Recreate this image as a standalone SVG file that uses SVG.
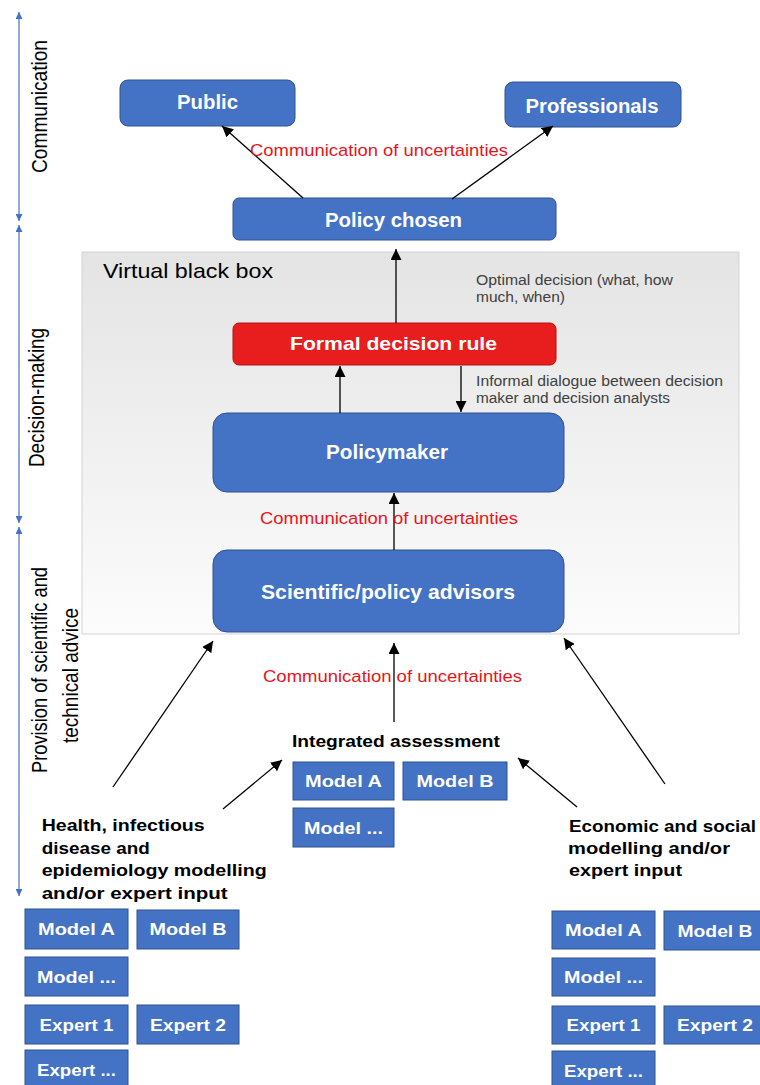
<svg xmlns="http://www.w3.org/2000/svg" width="760" height="1085" viewBox="0 0 760 1085">
<defs>
<linearGradient id="bbGrad" x1="0" y1="0" x2="0" y2="1">
<stop offset="0" stop-color="#e4e4e4"/>
<stop offset="1" stop-color="#fcfcfc"/>
</linearGradient>
<marker id="ah" viewBox="0 0 10 10" refX="10" refY="5" markerWidth="11" markerHeight="11" markerUnits="userSpaceOnUse" orient="auto">
<path d="M0,0 L10,5 L0,10 z" fill="#000"/>
</marker>
<marker id="bh" viewBox="0 0 10 10" refX="10" refY="5" markerWidth="7" markerHeight="7" markerUnits="userSpaceOnUse" orient="auto-start-reverse">
<path d="M0,0 L10,5 L0,10 z" fill="#4472C4"/>
</marker>
<style>
text{font-family:"Liberation Sans",Arial,sans-serif;}
.node{fill:#4472C4;stroke:#2F528F;stroke-width:1;}
.red{fill:#E81D1D;stroke:#B01515;stroke-width:1;}
.nt{fill:#fff;font-weight:bold;text-anchor:middle;}
.big{font-size:19.5px;}
.mt{font-size:17px;}
.lab{fill:#E8141A;font-size:16.8px;}
.gray{fill:#404040;font-size:14px;}
.bl{fill:#000;font-weight:bold;font-size:16.3px;}
.ax{fill:#000;font-size:22px;text-anchor:middle;}
.conn{stroke:#000;stroke-width:1.3;fill:none;marker-end:url(#ah);}
.axis{stroke:#4472C4;stroke-width:1.2;fill:none;marker-start:url(#bh);marker-end:url(#bh);}
</style>
</defs>

<g id="axis">
<line class="axis" x1="19" y1="12" x2="19" y2="221"/>
<line class="axis" x1="19" y1="225" x2="19" y2="523"/>
<line class="axis" x1="19" y1="527" x2="19" y2="896"/>
<text class="ax" transform="translate(46.7,106.5) rotate(-90)" textLength="133" lengthAdjust="spacingAndGlyphs">Communication</text>
<text class="ax" transform="translate(44,397.5) rotate(-90)" textLength="139" lengthAdjust="spacingAndGlyphs">Decision-making</text>
<text class="ax" transform="translate(47,670) rotate(-90)" textLength="206" lengthAdjust="spacingAndGlyphs">Provision of scientific and</text>
<text class="ax" transform="translate(78,675.5) rotate(-90)" textLength="135" lengthAdjust="spacingAndGlyphs">technical advice</text>
</g>

<g id="black-box">
<rect x="82" y="252" width="657" height="382" fill="url(#bbGrad)" stroke="#d4d4d4" stroke-width="1"/>
<text x="103" y="278" font-size="21" fill="#000" textLength="170" lengthAdjust="spacingAndGlyphs">Virtual black box</text>
</g>

<g id="public">
<rect class="node" x="120" y="80" width="175" height="46" rx="8"/>
<text class="nt big" x="207.5" y="109" textLength="61" lengthAdjust="spacingAndGlyphs">Public</text>
</g>
<g id="professionals">
<rect class="node" x="505" y="82" width="176" height="45" rx="8"/>
<text class="nt big" x="592" y="112.5" textLength="133" lengthAdjust="spacingAndGlyphs">Professionals</text>
</g>
<g id="policy-chosen">
<rect class="node" x="233" y="198" width="323" height="42" rx="6"/>
<text class="nt big" x="393.5" y="227" textLength="137" lengthAdjust="spacingAndGlyphs">Policy chosen</text>
</g>
<g id="formal-rule">
<rect class="red" x="233" y="323" width="323" height="42" rx="6"/>
<text class="nt" x="393.5" y="350" font-size="19" textLength="207" lengthAdjust="spacingAndGlyphs">Formal decision rule</text>
</g>
<g id="policymaker">
<rect class="node" x="213" y="413" width="351" height="79" rx="14"/>
<text class="nt big" x="387" y="459" textLength="122" lengthAdjust="spacingAndGlyphs">Policymaker</text>
</g>
<g id="advisors">
<rect class="node" x="213" y="550" width="351" height="82" rx="14"/>
<text class="nt" x="388" y="599" font-size="20.5" textLength="254" lengthAdjust="spacingAndGlyphs">Scientific/policy advisors</text>
</g>

<g id="notes">
<text class="gray" x="476" y="285" textLength="197" lengthAdjust="spacingAndGlyphs">Optimal decision (what, how</text>
<text class="gray" x="476" y="302" textLength="89" lengthAdjust="spacingAndGlyphs">much, when)</text>
<text class="gray" x="476" y="386" textLength="247" lengthAdjust="spacingAndGlyphs">Informal dialogue between decision</text>
<text class="gray" x="476" y="403" textLength="194" lengthAdjust="spacingAndGlyphs">maker and decision analysts</text>
</g>

<g id="integrated">
<text class="bl" x="292" y="747" textLength="208" lengthAdjust="spacingAndGlyphs">Integrated assessment</text>
<rect class="node" x="293" y="762" width="101" height="38"/>
<text class="nt mt" x="343.5" y="787" textLength="77" lengthAdjust="spacingAndGlyphs">Model A</text>
<rect class="node" x="403" y="762" width="104" height="38"/>
<text class="nt mt" x="455" y="787" textLength="77" lengthAdjust="spacingAndGlyphs">Model B</text>
<rect class="node" x="293" y="808" width="101" height="39"/>
<text class="nt mt" x="343.5" y="833.5" textLength="79" lengthAdjust="spacingAndGlyphs">Model ...</text>
</g>

<g id="health">
<text class="bl" x="41.7" y="831" textLength="163" lengthAdjust="spacingAndGlyphs">Health, infectious</text>
<text class="bl" x="41.7" y="853.5" textLength="108" lengthAdjust="spacingAndGlyphs">disease and</text>
<text class="bl" x="41.7" y="876" textLength="225" lengthAdjust="spacingAndGlyphs">epidemiology modelling</text>
<text class="bl" x="41.7" y="898.5" textLength="186" lengthAdjust="spacingAndGlyphs">and/or expert input</text>
<rect class="node" x="25" y="909" width="103" height="40"/>
<text class="nt mt" x="76.5" y="935" textLength="77" lengthAdjust="spacingAndGlyphs">Model A</text>
<rect class="node" x="137" y="910" width="102" height="39"/>
<text class="nt mt" x="188" y="935" textLength="77" lengthAdjust="spacingAndGlyphs">Model B</text>
<rect class="node" x="25" y="957" width="103" height="39"/>
<text class="nt mt" x="76.5" y="982.5" textLength="79" lengthAdjust="spacingAndGlyphs">Model ...</text>
<rect class="node" x="25" y="1005" width="103" height="39"/>
<text class="nt mt" x="76.5" y="1030.5" textLength="74" lengthAdjust="spacingAndGlyphs">Expert 1</text>
<rect class="node" x="137" y="1005" width="102" height="39"/>
<text class="nt mt" x="188" y="1030.5" textLength="76" lengthAdjust="spacingAndGlyphs">Expert 2</text>
<rect class="node" x="25" y="1050" width="103" height="40"/>
<text class="nt mt" x="76.5" y="1076" textLength="79" lengthAdjust="spacingAndGlyphs">Expert ...</text>
</g>

<g id="economic">
<text class="bl" x="569" y="831.5" textLength="187" lengthAdjust="spacingAndGlyphs">Economic and social</text>
<text class="bl" x="568" y="853.5" textLength="162" lengthAdjust="spacingAndGlyphs">modelling and/or</text>
<text class="bl" x="569" y="876" textLength="113" lengthAdjust="spacingAndGlyphs">expert input</text>
<rect class="node" x="552" y="911" width="103" height="38"/>
<text class="nt mt" x="603.5" y="936" textLength="77" lengthAdjust="spacingAndGlyphs">Model A</text>
<rect class="node" x="664" y="911" width="102" height="39"/>
<text class="nt mt" x="715" y="936.5" textLength="75" lengthAdjust="spacingAndGlyphs">Model B</text>
<rect class="node" x="552" y="958" width="103" height="38"/>
<text class="nt mt" x="603.5" y="983" textLength="79" lengthAdjust="spacingAndGlyphs">Model ...</text>
<rect class="node" x="552" y="1006" width="103" height="38"/>
<text class="nt mt" x="603.5" y="1031" textLength="74" lengthAdjust="spacingAndGlyphs">Expert 1</text>
<rect class="node" x="664" y="1006" width="102" height="38"/>
<text class="nt mt" x="715" y="1031" textLength="76" lengthAdjust="spacingAndGlyphs">Expert 2</text>
<rect class="node" x="552" y="1051" width="103" height="40"/>
<text class="nt mt" x="603.5" y="1077" textLength="79" lengthAdjust="spacingAndGlyphs">Expert ...</text>
</g>

<g id="connectors">
<line class="conn" x1="303" y1="198" x2="222" y2="126"/>
<line class="conn" x1="452" y1="199" x2="553" y2="126"/>
<line class="conn" x1="396" y1="323" x2="396" y2="249"/>
<line class="conn" x1="340" y1="413" x2="340" y2="366"/>
<line class="conn" x1="461" y1="366" x2="461" y2="412"/>
<line class="conn" x1="394" y1="550" x2="394" y2="493"/>
<line class="conn" x1="394" y1="722" x2="394" y2="643"/>
<line class="conn" x1="113" y1="787" x2="213" y2="641"/>
<line class="conn" x1="223" y1="809" x2="282" y2="760"/>
<line class="conn" x1="665" y1="784" x2="564" y2="638"/>
<line class="conn" x1="577" y1="807" x2="518" y2="758"/>
<text class="lab" x="250" y="156" textLength="258" lengthAdjust="spacingAndGlyphs">Communication of uncertainties</text>
<text class="lab" x="260" y="524" textLength="258" lengthAdjust="spacingAndGlyphs">Communication of uncertainties</text>
<text class="lab" x="263" y="681.5" textLength="259" lengthAdjust="spacingAndGlyphs">Communication of uncertainties</text>
</g>
</svg>
